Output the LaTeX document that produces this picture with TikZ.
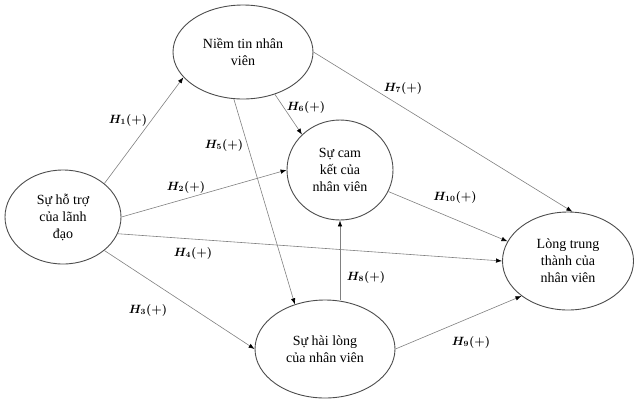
\documentclass[tikz,border=0pt]{standalone}
\usepackage{amsmath,amssymb,bm}
\usepackage{fontspec}
\setmainfont{Liberation Serif}
\definecolor{rimgray}{gray}{0.30}
\definecolor{linegray}{gray}{0.50}
\usetikzlibrary{arrows.meta,positioning,shapes.geometric}
\tikzset{
  construct/.style={ellipse,draw=rimgray,line width=0.9pt,inner sep=0pt,align=center,
    font=\fontsize{14}{17}\selectfont},
  hyp/.style={draw=linegray,line width=0.6pt,-{Latex[length=6pt,width=4.5pt,black]}},
  hlab/.style={font=\fontsize{11.5}{14}\selectfont\boldmath},
}
\newcommand{\hyplab}[1]{$H_{#1}(+)$}

\begin{document}
\begin{tikzpicture}[x=1pt,y=-1pt]
        \useasboundingbox (0,0) rectangle (634,400);
        % cac khai niem
        \node[construct,minimum width=116pt,minimum height=94pt] (lead) at (63,217) {Sự hỗ trợ\\của lãnh\\đạo};
        \node[construct,minimum width=140pt,minimum height=94pt] (trust) at (243,52) {Niềm tin nhân\\viên};
        \node[construct,minimum width=106pt,minimum height=100pt] (commit) at (340,170) {Sự cam\\kết của\\nhân viên};
        \node[construct,minimum width=140pt,minimum height=98pt] (satis) at (325,349) {Sự hài lòng\\của nhân viên};
        \node[construct,minimum width=131pt,minimum height=98pt] (loyal) at (568,261) {Lòng trung\\thành của\\nhân viên};
        % cac gia thuyet
        \draw[hyp] (lead.39) -- (trust.203);
        \draw[hyp] (lead.east) -- (commit.west);
        \draw[hyp] (lead.-17) -- (loyal.west);
        \draw[hyp] (lead.-39) -- (satis.west);
        \draw[hyp] (trust.259) -- (satis.124);
        \draw[hyp] (trust.-53) -- (commit.137);
        \draw[hyp] (trust.east) -- (loyal.85);
        \draw[hyp] (commit.-24) -- (loyal.162);
        \draw[hyp] (commit.south |- satis.north) -- (commit.south);
        \draw[hyp] (satis.east) -- (loyal.217);
        % nhan
        \node[hlab] (h1) at (128,120) {\hyplab{1}};
        \node[hlab] (h2) at (186,187) {\hyplab{2}};
        \node[hlab] (h3) at (148,310) {\hyplab{3}};
        \node[hlab] (h4) at (193,253) {\hyplab{4}};
        \node[hlab] (h5) at (224,145) {\hyplab{5}};
        \node[hlab] (h6) at (306,107) {\hyplab{6}};
        \node[hlab] (h7) at (403,88) {\hyplab{7}};
        \node[hlab] (h8) at (366,277) {\hyplab{8}};
        \node[hlab] (h9) at (471,342) {\hyplab{9}};
        \node[hlab] (h10) at (455,197) {\hyplab{10}};
      \end{tikzpicture}
\end{document}
